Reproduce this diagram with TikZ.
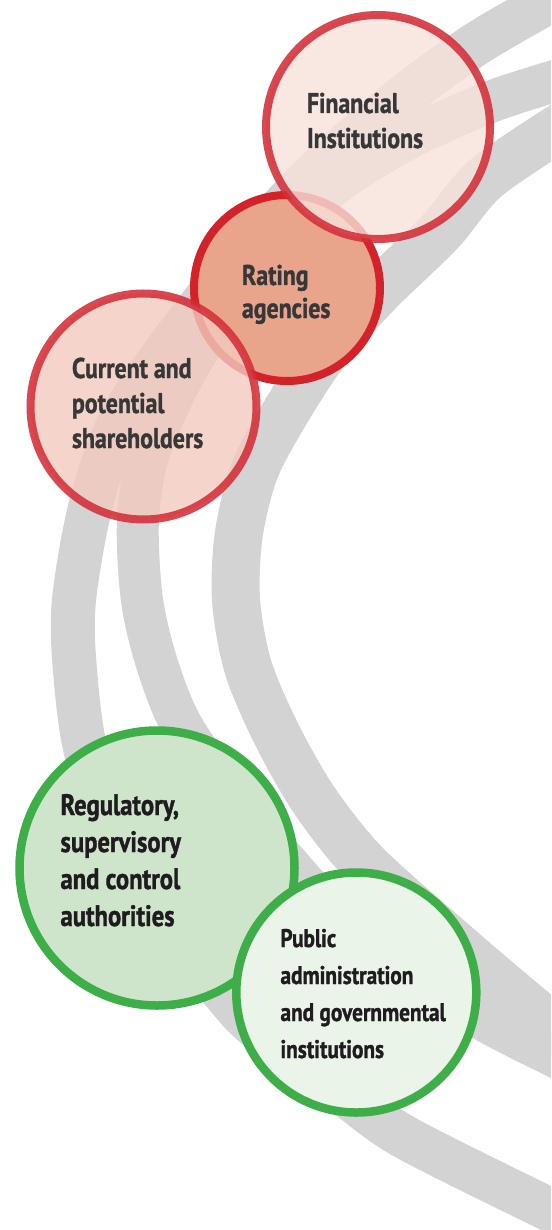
\documentclass[tikz,border=0pt]{standalone}
\usepackage{fontspec}
\newfontfamily\lblfont{PT Sans}[FakeStretch=0.835, BoldFeatures={FakeBold=1.2}]
\definecolor{bandgray}{RGB}{211,211,211}
\definecolor{redA}{RGB}{211,34,42}
\definecolor{redB}{RGB}{212,46,56}
\definecolor{finfill}{RGB}{248,226,219}
\definecolor{curfill}{RGB}{243,203,190}
\definecolor{ratfill}{RGB}{233,164,140}
\definecolor{grn}{RGB}{62,174,73}
\definecolor{regfill}{RGB}{207,229,203}
\definecolor{pubfill}{RGB}{234,244,232}
\definecolor{txtred}{RGB}{55,55,55}
\definecolor{txtgrn}{RGB}{30,28,30}
\tikzset{
  band/.style={draw=bandgray, line cap=butt, line join=round},
  bubble/.style={circle, inner sep=0pt, outer sep=0pt},
  softred/.style={bubble, draw=redB, line width=8pt, fill opacity=0.8, draw opacity=0.88},
  hardred/.style={bubble, draw=redA, line width=8pt, fill=ratfill},
  green/.style={bubble, draw=grn, line width=8.5pt},
  lbl/.style={anchor=base west, inner sep=0pt, outer sep=0pt},
  redtxt/.style={lbl, text=txtred, font=\lblfont\bfseries\fontsize{28.5}{35}\selectfont},
  ratxt/.style={lbl, text=txtred, font=\lblfont\bfseries\fontsize{28.5}{33}\selectfont},
  regtxt/.style={lbl, text=txtgrn, font=\lblfont\bfseries\fontsize{29.5}{37}\selectfont},
  pubtxt/.style={lbl, text=txtgrn, font=\lblfont\bfseries\fontsize{25.5}{37}\selectfont}
}
\begin{document}
\begin{tikzpicture}[x=1pt,y=-1pt]
\useasboundingbox (0,0) rectangle (551,1230);
\clip (0,0) rectangle (551,1230);
% grey ribbons
\draw[band, line width=44pt] plot[smooth] coordinates {(575,-12) (534,10) (470,48) (392,106) (300,188) (208,296) (126,410) (92,500) (74,600) (75,670) (88,760) (135,890) (218,986) (255,1026) (348,1097) (410,1140) (575,1222)};
\draw[band, line width=42pt] plot[smooth] coordinates {(575,75) (490,102) (400,143) (322,195) (258,270) (192,360) (150,450) (138,520) (142,600) (158,667) (186,733) (255,825) (360,940) (480,1018) (575,1066)};
\draw[band, line width=48pt] plot[smooth] coordinates {(575,118) (487,177) (440,232) (380,290) (330,345) (293,400) (256,467) (239,533) (236,600) (248,667) (276,733) (314,800) (365,864) (450,940) (536,1013) (575,1040)};
% circles
\node[hardred, minimum size=186pt] (rat) at (287,288) {};
\node[softred, fill=finfill, minimum size=224pt] (fin) at (378,127) {};
\node[softred, fill=curfill, minimum size=226pt] (cur) at (143.5,406.5) {};
\node[green, fill=regfill, minimum size=275pt] (reg) at (157,868) {};
\node[green, fill=pubfill, minimum size=240pt] (pub) at (356.3,992.5) {};
% labels
\node[redtxt] (tfin) at (307,113) {\begin{tabular}[t]{@{}l@{}}Financial\\Institutions\end{tabular}};
\node[ratxt] (trat) at (242,285) {\begin{tabular}[t]{@{}l@{}}Rating\\agencies\end{tabular}};
\node[redtxt] (tcur) at (72,378) {\begin{tabular}[t]{@{}l@{}}Current and\\potential\\shareholders\end{tabular}};
\node[regtxt] (treg) at (60.5,815) {\begin{tabular}[t]{@{}l@{}}Regulatory,\\supervisory\\and control\\authorities\end{tabular}};
\node[pubtxt] (tpub) at (280.5,947) {\begin{tabular}[t]{@{}l@{}}Public\\administration\\and governmental\\institutions\end{tabular}};
\end{tikzpicture}
\end{document}
